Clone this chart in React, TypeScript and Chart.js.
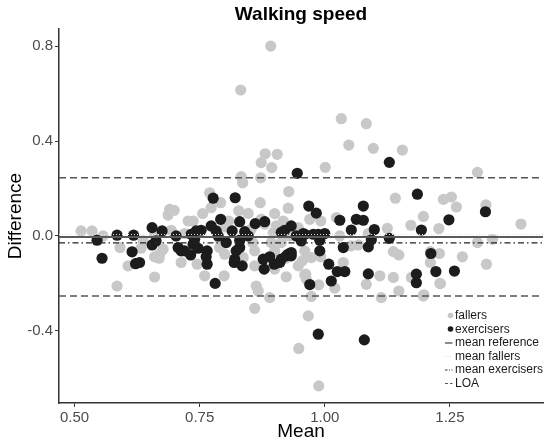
import { useEffect, useRef } from 'react'
import { Chart, registerables } from 'chart.js'

Chart.register(...registerables)

const FONT = "'Liberation Sans', Arial, sans-serif"

// fallers: mean of the two measurements and their difference
const fallersMean = [
  0.892, 0.832, 1.033, 1.083, 1.048, 1.097, 1.155, 1.001, 1.305, 0.905,
  0.881, 0.873, 0.894, 0.833, 0.836, 0.872, 0.871, 0.770, 0.792, 0.690,
  0.699, 0.687, 0.756, 0.828, 0.847, 0.928, 0.927, 1.141, 1.237, 1.253,
  1.263, 1.322, 1.197, 1.392, 0.900, 0.737, 0.808, 0.917, 0.727, 0.970,
  0.992, 1.023, 1.228, 1.172, 1.125, 1.087, 1.030, 0.513, 0.535, 0.557,
  0.660, 0.693, 0.720, 0.800, 0.853, 0.880, 0.897, 0.856, 0.893, 0.913,
  0.790, 0.800, 0.860, 0.900, 0.745, 0.760, 0.799, 0.923, 0.900, 0.863,
  0.867, 0.890, 0.860, 0.963, 0.973, 0.967, 0.948, 0.988, 1.113, 1.197,
  1.148, 0.988, 1.020, 1.110, 1.137, 1.173, 1.230, 1.083, 1.037, 0.962,
  0.922, 1.137, 1.148, 1.211, 1.229, 1.275, 1.323, 1.211, 1.231, 1.198,
  1.305, 1.335, 1.067, 1.053, 0.973, 0.992, 0.960, 0.960, 0.955, 0.637,
  0.633, 0.591, 0.677, 0.670, 0.607, 0.660, 0.669, 0.713, 0.660, 0.585,
  0.773, 0.873, 0.903, 0.947, 0.837, 0.860, 0.947, 0.790, 0.930,
]
const fallersDiff = [
  0.800, 0.615, 0.494, 0.473, 0.383, 0.369, 0.362, 0.289, 0.268, 0.344,
  0.346, 0.309, 0.288, 0.250, 0.224, 0.245, 0.140, 0.182, 0.140, 0.112,
  0.108, 0.088, 0.094, 0.106, 0.095, 0.187, 0.117, 0.159, 0.154, 0.164,
  0.122, 0.131, 0.082, 0.050, 0.094, 0.063, 0.063, 0.063, 0.063, 0.070,
  0.063, 0.077, 0.031, 0.045, 0.032, 0.010, 0.000, 0.021, 0.021, 0.000,
  0.007, 0.024, 0.010, 0.038, 0.028, 0.050, 0.014, -0.028, -0.028, -0.028,
  -0.049, -0.077, -0.063, -0.063, -0.119, -0.168, -0.168, -0.172, -0.140, -0.211,
  -0.232, -0.260, -0.305, -0.182, -0.255, -0.337, -0.474, -0.632, -0.260, -0.253,
  -0.232, -0.206, -0.220, -0.168, -0.175, -0.175, -0.200, -0.204, -0.112, -0.161,
  -0.094, -0.066, -0.080, -0.066, -0.074, -0.088, -0.119, -0.112, -0.201, -0.248,
  -0.028, -0.014, -0.038, -0.042, -0.091, -0.088, -0.063, -0.164, -0.105, -0.021,
  -0.052, -0.049, -0.056, -0.077, -0.126, -0.088, -0.094, -0.112, -0.173, -0.211,
  0.119, 0.070, 0.042, 0.035, -0.091, -0.126, -0.126, -0.014, 0.000,
]

// exercisers
const exercisersMean = [
  1.129, 0.945, 0.968, 0.983, 1.077, 1.185, 1.321, 1.248, 0.777, 0.821,
  1.030, 1.063, 1.077, 1.053, 1.099, 1.193, 0.987, 1.000, 0.990, 0.960,
  1.037, 1.087, 1.093, 1.129, 0.990, 1.008, 1.025, 1.040, 1.087, 1.013,
  0.970, 1.183, 1.183, 1.222, 1.259, 1.212, 0.987, 1.079, 0.950, 0.927,
  0.933, 0.910, 0.792, 0.830, 0.861, 0.880, 0.773, 0.783, 0.753, 0.743,
  0.733, 0.815, 0.840, 0.920, 0.933, 0.913, 0.957, 0.740, 0.737, 0.787,
  0.803, 0.830, 0.847, 0.953, 0.943, 0.747, 0.765, 0.823, 0.830, 0.732,
  0.763, 0.820, 0.877, 0.890, 0.913, 0.923, 0.933, 0.765, 0.819, 0.835,
  0.879, 0.899, 0.781, 0.720, 0.545, 0.585, 0.618, 0.655, 0.675, 0.703,
  0.655, 0.663, 0.707, 0.713, 0.615, 0.555, 0.622, 0.630, 0.977,
]
const exercisersDiff = [
  0.310, 0.264, 0.126, 0.096, 0.126, 0.176, 0.102, 0.068, 0.159, 0.161,
  0.066, 0.070, 0.066, 0.025, 0.027, 0.025, 0.007, 0.010, -0.018, 0.007,
  -0.049, -0.046, -0.016, -0.010, -0.063, -0.119, -0.150, -0.150, -0.160, -0.190,
  -0.205, -0.161, -0.197, -0.150, -0.148, -0.074, -0.414, -0.438, -0.004, -0.077,
  -0.084, -0.112, 0.070, 0.060, 0.052, 0.060, 0.042, 0.021, 0.024, 0.021,
  0.007, 0.021, 0.018, 0.024, 0.042, 0.015, 0.010, -0.014, -0.035, 0.000,
  -0.028, -0.018, 0.000, -0.021, 0.000, -0.052, -0.063, -0.063, -0.049, -0.080,
  -0.088, -0.098, -0.098, -0.088, -0.098, -0.084, -0.070, -0.119, -0.112, -0.126,
  -0.140, -0.119, -0.200, -0.063, -0.018, 0.003, 0.003, 0.035, 0.021, 0.000,
  -0.038, -0.021, -0.049, -0.063, -0.067, -0.094, -0.117, -0.112, 0.007,
]

// horizontal reference lines
const meanReference = -0.004
const meanFallers = 0.006
const meanExercisers = -0.029
const loaUpper = 0.245
const loaLower = -0.253

const xTicks = [0.5, 0.75, 1.0, 1.25]
const yTicks = [-0.4, 0, 0.4, 0.8]
const xRange = [0.469, 1.436]
const yRange = [-0.704, 0.872]

const GRAY = '#c8c8c8'
const BLACK = '#1c1c1c'

const legendItems = [
  { label: 'fallers', kind: 'dot', color: GRAY },
  { label: 'exercisers', kind: 'dot', color: BLACK },
  { label: 'mean reference', kind: 'line', color: '#666666', dash: [] as number[], width: 1.5 },
  { label: 'mean fallers', kind: 'line', color: '#dddddd', dash: [1, 1.5], width: 1 },
  { label: 'mean exercisers', kind: 'line', color: '#333333', dash: [2.5, 1.5, 1, 1.5], width: 1 },
  { label: 'LOA', kind: 'line', color: '#555555', dash: [3, 2], width: 1.2 },
]

function hline(y: number, color: string, dash: number[], width: number) {
  return {
    type: 'line' as const,
    data: [{ x: xRange[0], y }, { x: xRange[1], y }],
    borderColor: color,
    borderDash: dash,
    borderWidth: width,
    pointRadius: 0,
    fill: false,
    order: 0,
  }
}

const titlePlugin = {
  id: 'plotTitle',
  afterDraw(chart: any) {
    const { ctx, chartArea } = chart
    ctx.save()
    ctx.font = `bold 19px ${FONT}`
    ctx.fillStyle = '#000'
    ctx.textAlign = 'center'
    ctx.textBaseline = 'alphabetic'
    ctx.fillText('Walking speed', (chartArea.left + chartArea.right) / 2, 19.5)
    ctx.restore()
  },
}

const legendPlugin = {
  id: 'insideLegend',
  afterDraw(chart: any) {
    const { ctx } = chart
    ctx.save()
    ctx.font = `12px ${FONT}`
    ctx.textBaseline = 'middle'
    ctx.textAlign = 'left'
    legendItems.forEach((item, i) => {
      const y = 316 + i * 13.5
      if (item.kind === 'dot') {
        ctx.fillStyle = item.color
        ctx.beginPath()
        ctx.arc(450.5, y - 0.5, 2.8, 0, Math.PI * 2)
        ctx.fill()
      } else {
        ctx.strokeStyle = item.color
        ctx.lineWidth = item.width
        ctx.setLineDash(item.dash || [])
        ctx.beginPath()
        ctx.moveTo(445, y)
        ctx.lineTo(452.5, y)
        ctx.stroke()
        ctx.setLineDash([])
      }
      ctx.fillStyle = '#1a1a1a'
      ctx.fillText(item.label, 455, y)
    })
    ctx.restore()
  },
}

export default function App() {
  const chartRef = useRef<HTMLCanvasElement>(null)
  const chartInstance = useRef<Chart | null>(null)

  useEffect(() => {
    if (!chartRef.current) return
    if (chartInstance.current) chartInstance.current.destroy()

    const ctx = chartRef.current.getContext('2d')
    if (!ctx) return

    chartInstance.current = new Chart(ctx, {
      type: 'scatter',
      data: {
        datasets: [
          hline(loaUpper, '#555555', [7, 4], 1.5),
          hline(loaLower, '#555555', [7, 4], 1.5),
          hline(meanFallers, '#e4e4e4', [1, 2], 1),
          hline(meanExercisers, '#222222', [6, 3, 1.5, 3], 1.2),
          hline(meanReference, '#5a5a5a', [], 2),
          {
            label: 'exercisers',
            data: exercisersMean.map((x, i) => ({ x, y: exercisersDiff[i] })),
            backgroundColor: BLACK,
            borderWidth: 0,
            pointRadius: 5.6,
            order: 1,
          },
          {
            label: 'fallers',
            data: fallersMean.map((x, i) => ({ x, y: fallersDiff[i] })),
            backgroundColor: GRAY,
            borderWidth: 0,
            pointRadius: 5.6,
            order: 2,
          },
        ] as any,
      },
      options: {
        animation: false,
        responsive: true,
        maintainAspectRatio: false,
        layout: { padding: { top: 29, right: 7, left: 0, bottom: 0 } },
        plugins: {
          legend: { display: false },
          tooltip: { enabled: false },
          title: { display: false },
        },
        scales: {
          x: {
            type: 'linear',
            min: xRange[0],
            max: xRange[1],
            afterFit: (scale: any) => {
              scale.height = 42
            },
            afterBuildTicks: (scale: any) => {
              scale.ticks = xTicks.map((v) => ({ value: v }))
            },
            grid: { drawOnChartArea: false, drawTicks: true, tickLength: 4, color: '#333333' },
            border: { display: true, color: '#333333', width: 1.5 },
            ticks: {
              color: '#4d4d4d',
              font: { family: FONT, size: 15 },
              padding: 2,
              maxRotation: 0,
              callback: (v: any) => Number(v).toFixed(2),
            },
            title: {
              display: true,
              text: 'Mean',
              color: '#000',
              font: { family: FONT, size: 19 },
              padding: { top: 0, bottom: 2 },
            },
          },
          y: {
            type: 'linear',
            min: yRange[0],
            max: yRange[1],
            afterFit: (scale: any) => {
              scale.width = 59
            },
            afterBuildTicks: (scale: any) => {
              scale.ticks = yTicks.map((v) => ({ value: v }))
            },
            grid: { drawOnChartArea: false, drawTicks: true, tickLength: 4, color: '#333333' },
            border: { display: true, color: '#333333', width: 1.5 },
            ticks: {
              color: '#4d4d4d',
              font: { family: FONT, size: 15 },
              padding: 2,
              callback: (v: any) => Number(v).toFixed(1),
            },
            title: {
              display: true,
              text: 'Difference',
              color: '#000',
              font: { family: FONT, size: 19 },
              padding: { top: 4, bottom: 0 },
            },
          },
        },
      },
      plugins: [titlePlugin, legendPlugin],
    })

    return () => {
      if (chartInstance.current) {
        chartInstance.current.destroy()
        chartInstance.current = null
      }
    }
  }, [])

  return (
    <div style={{ position: 'absolute', left: 0, top: 0, width: 550, height: 445, background: '#fff' }}>
      <canvas ref={chartRef} />
    </div>
  )
}
